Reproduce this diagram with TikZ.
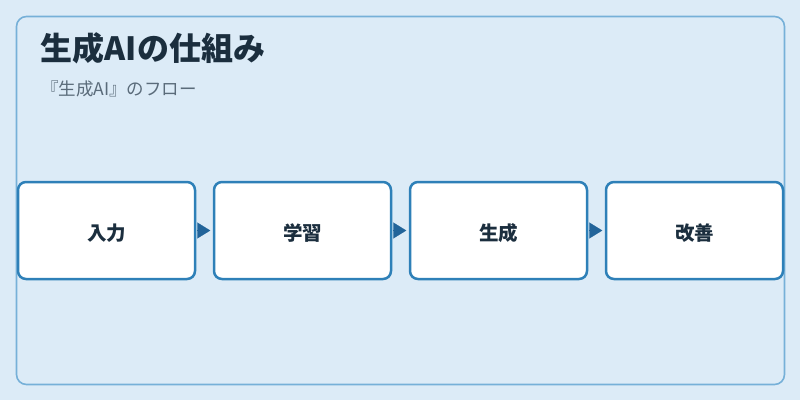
\documentclass[tikz,border=0pt]{standalone}
\usepackage{fontspec}
\setmainfont{Noto Sans CJK JP}
\usetikzlibrary{arrows.meta}
\definecolor{bgc}{HTML}{DCEBF7}
\definecolor{framec}{HTML}{76B0D8}
\definecolor{boxc}{HTML}{2E80B8}
\definecolor{arrc}{HTML}{22649A}
\definecolor{txtc}{HTML}{1B2E3E}
\definecolor{subc}{HTML}{5A6B7A}
\tikzset{
  stepbox/.style={draw=boxc, line width=2.5pt, fill=white, rounded corners=8pt,
    minimum width=177pt, minimum height=97pt, inner sep=0pt,
    font=\fontsize{19.5pt}{23pt}\selectfont\bfseries, text=txtc},
  flowarrow/.style={draw=arrc, line width=0.1pt, shorten <=2pt, shorten >=2.5pt,
    -{Triangle[length=13pt,width=16pt]}, arrc, fill=arrc}
}
\newcommand{\boxlbl}[1]{\raisebox{-2.5pt}[\height][\depth]{#1}}
\begin{document}
\begin{tikzpicture}[x=1pt,y=-1pt]
\useasboundingbox (0,0) rectangle (800,400);
\fill[bgc] (0,0) rectangle (800,400);
\draw[framec, line width=1.6pt, rounded corners=10pt] (16.5,16.5) rectangle (784.5,384.5);
\node[anchor=base west, inner sep=0pt, text=txtc, font=\fontsize{32pt}{36pt}\selectfont\bfseries] (title) at (40.5,60) {生成AIの仕組み};
\node[anchor=base west, inner sep=0pt, text=subc, font=\fontsize{17.5pt}{21pt}\selectfont] (sub) at (41,95.5) {『生成AI』のフロー};
\node[stepbox] (b1) at (106.5,230.5) {\boxlbl{入力}};
\node[stepbox] (b2) at (302.5,230.5) {\boxlbl{学習}};
\node[stepbox] (b3) at (498.5,230.5) {\boxlbl{生成}};
\node[stepbox] (b4) at (694.5,230.5) {\boxlbl{改善}};
\draw[flowarrow] (b1) -- (b2);
\draw[flowarrow] (b2) -- (b3);
\draw[flowarrow] (b3) -- (b4);
\end{tikzpicture}
\end{document}
